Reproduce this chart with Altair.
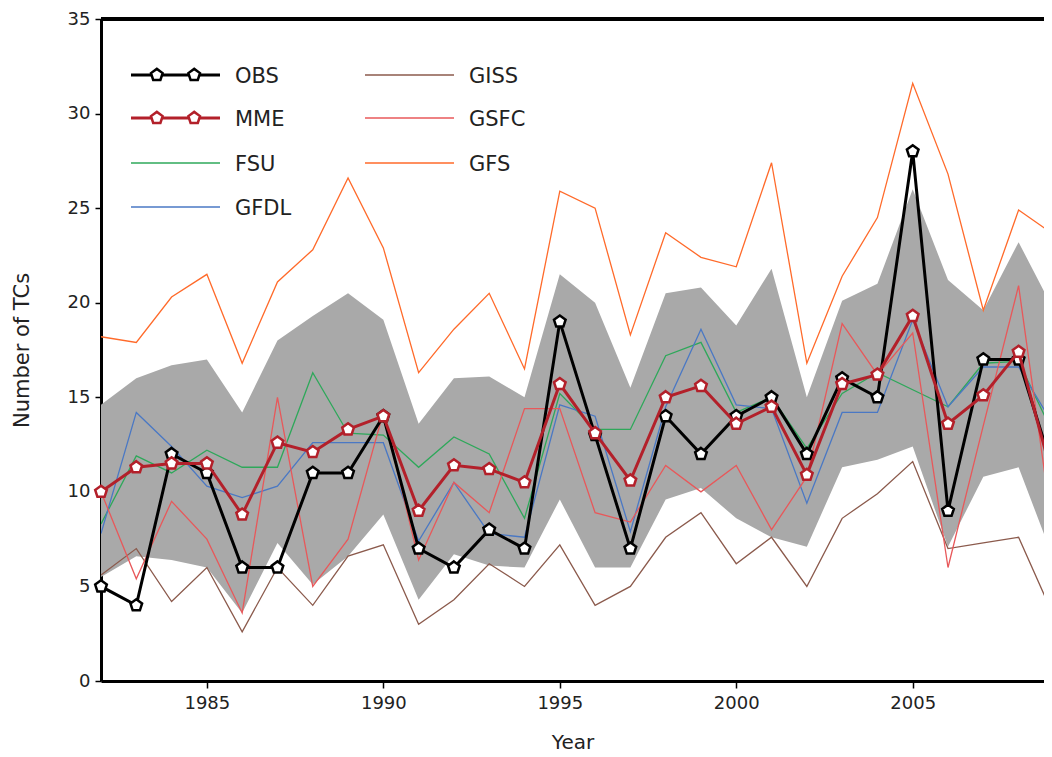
import altair as alt
import pandas as pd

# ---------------- data ----------------
years = list(range(1982, 2010))

obs  = [5, 4, 12, 11, 6, 6, 11, 11, 14, 7, 6, 8, 7, 19, 13, 7, 14, 12, 14, 15, 12, 16, 15, 28, 9, 17, 17, 11]
mme  = [10.0, 11.3, 11.5, 11.5, 8.8, 12.6, 12.1, 13.3, 14.0, 9.0, 11.4, 11.2, 10.5, 15.7, 13.1, 10.6, 15.0, 15.6,
        13.6, 14.5, 10.9, 15.7, 16.2, 19.3, 13.6, 15.1, 17.4, 10.5]
fsu  = [8.3, 11.9, 11.0, 12.2, 11.3, 11.3, 16.3, 13.1, 13.0, 11.3, 12.9, 12.0, 8.6, 15.2, 13.3, 13.3, 17.2, 17.9,
        14.2, 15.0, 12.3, 15.2, 16.3, 15.4, 14.5, 16.8, 16.9, 13.0]
gfdl = [7.8, 14.2, 12.4, 10.3, 9.7, 10.3, 12.6, 12.6, 12.6, 7.4, 10.5, 7.8, 7.6, 14.6, 14.0, 7.9, 14.5, 18.6,
        14.6, 14.4, 9.4, 14.2, 14.2, 19.1, 14.5, 16.6, 16.6, 13.5]
giss = [5.6, 7.0, 4.2, 6.0, 2.6, 6.0, 4.0, 6.6, 7.2, 3.0, 4.3, 6.2, 5.0, 7.2, 4.0, 5.0, 7.6, 8.9,
        6.2, 7.6, 5.0, 8.6, 9.9, 11.6, 7.0, 7.3, 7.6, 3.4]
gsfc = [10.0, 5.4, 9.5, 7.5, 3.6, 15.0, 5.0, 7.5, 14.2, 6.4, 10.5, 8.9, 14.4, 14.4, 8.9, 8.4, 11.4, 10.0,
        11.4, 8.0, 10.8, 18.9, 16.2, 18.4, 6.0, 13.5, 20.9, 7.5]
gfs  = [18.2, 17.9, 20.3, 21.5, 16.8, 21.1, 22.8, 26.6, 22.9, 16.3, 18.6, 20.5, 16.5, 25.9, 25.0, 18.3, 23.7, 22.4,
        21.9, 27.4, 16.8, 21.4, 24.5, 31.6, 26.8, 19.6, 24.9, 23.6]
band_hi = [14.6, 16.0, 16.7, 17.0, 14.2, 18.0, 19.3, 20.5, 19.1, 13.6, 16.0, 16.1, 15.0, 21.5, 20.0, 15.5, 20.5, 20.8,
           18.8, 21.8, 15.0, 20.1, 21.0, 26.0, 21.2, 19.6, 23.2, 19.6]
band_lo = [5.5, 6.6, 6.4, 6.0, 3.6, 7.3, 5.1, 6.6, 8.8, 4.3, 6.7, 6.1, 6.0, 9.6, 6.0, 6.0, 9.6, 10.2,
           8.6, 7.6, 7.1, 11.3, 11.7, 12.4, 7.1, 10.8, 11.3, 6.4]

series_names = ["OBS", "MME", "FSU", "GFDL", "GISS", "GSFC", "GFS"]
series_colors = ["#000000", "#b3202a", "#2ea85a", "#4a78c4", "#8b5a4c", "#e8585a", "#ff6a2a"]
x_ticks = [1985, 1990, 1995, 2000, 2005]
y_ticks = [0, 5, 10, 15, 20, 25, 30, 35]

# ---------------- layout / style ----------------
W, H = 943, 662
X_MAX = 2008.72          # the reference view is cut just before 2009
FONT = "DejaVu Sans"
TXT = "#222222"
PENT = "M0,-1L0.951,-0.309L0.588,0.809L-0.588,0.809L-0.951,-0.309Z"
MSIZE = 150

values = {"OBS": obs, "MME": mme, "FSU": fsu, "GFDL": gfdl, "GISS": giss, "GSFC": gsfc, "GFS": gfs}
rows = []
for name in series_names:
    for yr, v in zip(years, values[name]):
        rows.append({"Year": yr, "Series": name, "Value": v})
df = pd.DataFrame(rows)
band_df = pd.DataFrame({"Year": years, "lo": band_lo, "hi": band_hi})

color_scale = alt.Scale(domain=series_names, range=series_colors)
xscale = alt.Scale(domain=[1982, X_MAX], nice=False, zero=False)
yscale = alt.Scale(domain=[0, 35], nice=False, zero=False)

x_axis = alt.Axis(values=x_ticks, format="d", title="Year", grid=False,
                  domainColor="black", domainWidth=3, tickColor="black", tickWidth=1.5, tickSize=7,
                  labelFont=FONT, labelFontSize=18, labelColor=TXT, labelPadding=6, labelFlush=False,
                  titleFont=FONT, titleFontSize=20, titleFontWeight="normal", titleColor=TXT,
                  titleY=61, titleBaseline="middle")
y_axis = alt.Axis(values=y_ticks, title="Number of TCs", grid=False,
                  domainColor="black", domainWidth=3, tickColor="black", tickWidth=1.5, tickSize=6,
                  labelFont=FONT, labelFontSize=18, labelColor=TXT, labelPadding=5,
                  titleFont=FONT, titleFontSize=21, titleFontWeight="normal", titleColor=TXT,
                  titleX=-79, titleY=H / 2, titleAngle=-90, titleAlign="center", titleBaseline="middle")

X = alt.X("Year:Q", scale=xscale, axis=x_axis)

band = alt.Chart(band_df).mark_area(color="#a9a9a9", opacity=1, clip=True).encode(
    x=X,
    y=alt.Y("lo:Q", scale=yscale, axis=y_axis),
    y2="hi:Q",
)

thin = alt.Chart(df).transform_filter(
    alt.FieldOneOfPredicate(field="Series", oneOf=["GISS", "GSFC", "GFS", "FSU", "GFDL"])
).mark_line(strokeWidth=1.3, clip=True).encode(
    x=X,
    y=alt.Y("Value:Q", scale=yscale, axis=y_axis),
    color=alt.Color("Series:N", scale=color_scale, legend=None),
    detail="Series:N",
)

def thick(name):
    base = alt.Chart(df).transform_filter(alt.datum.Series == name)
    ln = base.mark_line(strokeWidth=3, clip=True).encode(
        x=X,
        y=alt.Y("Value:Q", scale=yscale, axis=y_axis),
        color=alt.Color("Series:N", scale=color_scale, legend=None),
    )
    pt = base.transform_filter(alt.datum.Year <= X_MAX).mark_point(
        shape=PENT, size=MSIZE, filled=True, fill="white", strokeWidth=2.5, opacity=1
    ).encode(
        x=X,
        y=alt.Y("Value:Q", scale=yscale, axis=y_axis),
        stroke=alt.Stroke("Series:N", scale=color_scale, legend=None),
    )
    return ln + pt

# top frame line
top = alt.Chart(band_df).mark_rule(color="black", strokeWidth=3).encode(
    x=alt.value(0), x2=alt.value(W), y=alt.value(0)
)

# ---------------- legend (inside plot, top-left) ----------------
col_x0 = [30, 264]
col_len = 89
row_y = [56, 99, 144, 188]
leg_rows = []
for i, name in enumerate(series_names):
    c = 0 if i < 4 else 1
    r = i if i < 4 else i - 4
    leg_rows.append({"Series": name, "x0": col_x0[c], "x1": col_x0[c] + col_len,
                     "tx": col_x0[c] + col_len + 15, "ly": row_y[r], "ty": row_y[r] + 2,
                     "w": 3 if name in ("OBS", "MME") else 1.3})
leg_df = pd.DataFrame(leg_rows)
mk_rows = []
for r in leg_rows:
    if r["Series"] in ("OBS", "MME"):
        for f in (0.29, 0.71):
            mk_rows.append({"Series": r["Series"], "mx": r["x0"] + f * col_len, "ly": r["ly"]})
mk_df = pd.DataFrame(mk_rows)

leg_lines = alt.Chart(leg_df).mark_rule().encode(
    x=alt.X("x0:Q", scale=None), x2="x1:Q",
    y=alt.Y("ly:Q", scale=None),
    color=alt.Color("Series:N", scale=color_scale, legend=None),
    strokeWidth=alt.StrokeWidth("w:Q", scale=None, legend=None),
)
leg_marks = alt.Chart(mk_df).mark_point(shape=PENT, size=MSIZE, filled=True, fill="white",
                                        strokeWidth=2.5, opacity=1).encode(
    x=alt.X("mx:Q", scale=None),
    y=alt.Y("ly:Q", scale=None),
    stroke=alt.Stroke("Series:N", scale=color_scale, legend=None),
)
leg_text = alt.Chart(leg_df).mark_text(align="left", baseline="middle", font=FONT,
                                       fontSize=21, color=TXT).encode(
    x=alt.X("tx:Q", scale=None),
    y=alt.Y("ty:Q", scale=None),
    text="Series:N",
)

chart = alt.layer(
    band, thin, thick("OBS"), thick("MME"), top, leg_lines, leg_marks, leg_text
).properties(
    width=W, height=H,
    autosize=alt.AutoSizeParams(type="none"),
    padding={"left": 93, "top": 11, "right": 0, "bottom": 78},
).configure_view(stroke=None).configure(background="white")

chart.save("out.html", embed_options={"renderer": "svg", "actions": False})
